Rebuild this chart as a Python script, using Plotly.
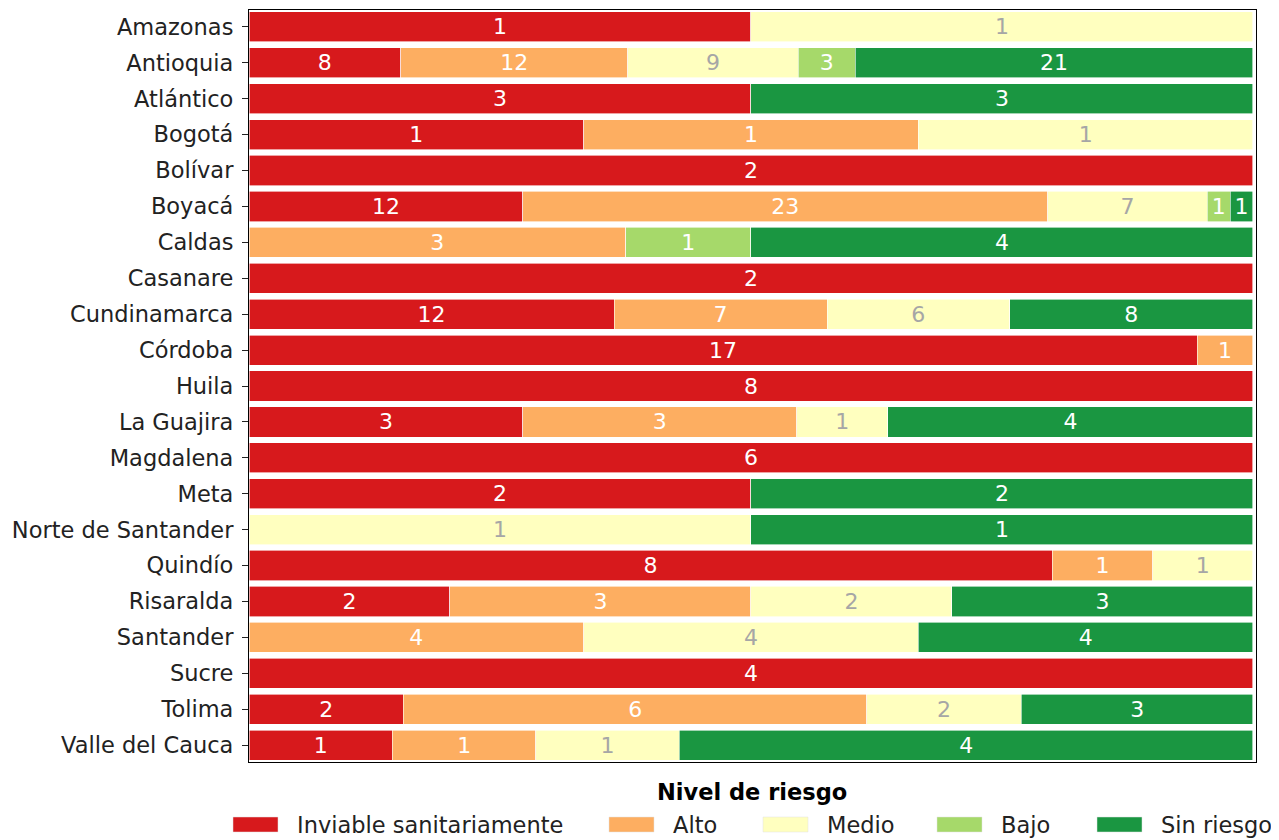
import plotly.graph_objects as go

departamentos = ["Amazonas", "Antioquia", "Atlántico", "Bogotá", "Bolívar", "Boyacá", "Caldas",
                 "Casanare", "Cundinamarca", "Córdoba", "Huila", "La Guajira", "Magdalena", "Meta",
                 "Norte de Santander", "Quindío", "Risaralda", "Santander", "Sucre", "Tolima",
                 "Valle del Cauca"]

niveles = ["Inviable sanitariamente", "Alto", "Medio", "Bajo", "Sin riesgo"]

inviable   = [1, 8, 3, 1, 2, 12, 0, 2, 12, 17, 8, 3, 6, 2, 0, 8, 2, 0, 4, 2, 1]
alto       = [0, 12, 0, 1, 0, 23, 3, 0, 7, 1, 0, 3, 0, 0, 0, 1, 3, 4, 0, 6, 1]
medio      = [1, 9, 0, 1, 0, 7, 0, 0, 6, 0, 0, 1, 0, 0, 1, 1, 2, 4, 0, 2, 1]
bajo       = [0, 3, 0, 0, 0, 1, 1, 0, 0, 0, 0, 0, 0, 0, 0, 0, 0, 0, 0, 0, 0]
sin_riesgo = [0, 21, 3, 0, 0, 1, 4, 0, 8, 0, 0, 4, 0, 2, 1, 0, 3, 4, 0, 3, 4]

series = [inviable, alto, medio, bajo, sin_riesgo]
colores = ["#d7191c", "#fdae61", "#ffffbf", "#a6d96a", "#1a9641"]
color_texto = ["white", "white", "#a6a6a6", "white", "white"]

FS = 22.5
FS_BAR = 22

fig = go.Figure()
for nombre, vals, col, tcol in zip(niveles, series, colores, color_texto):
    fig.add_trace(go.Bar(
        y=departamentos,
        x=[v if v else None for v in vals],
        orientation="h",
        name=nombre,
        marker=dict(color=col, line=dict(color="white", width=0.6)),
        text=[str(v) if v else "" for v in vals],
        textposition="inside",
        insidetextanchor="middle",
        textangle=0,
        textfont=dict(color=tcol, size=FS_BAR, family="DejaVu Sans"),
        showlegend=False,
    ))

# page has an 8px body margin: figure sized so it fits the 1279x840 window
fig.update_layout(
    width=1271, height=832,
    barmode="stack", barnorm="percent", bargap=0.16,
    plot_bgcolor="white", paper_bgcolor="white",
    margin=dict(l=241, r=23, t=2, b=78),
    font=dict(family="DejaVu Sans", color="#222"),
    uniformtext=dict(minsize=FS_BAR, mode="show"),
)
fig.update_xaxes(range=[0, 100.3], showticklabels=False, ticks="", showgrid=False, zeroline=False,
                 showline=True, linecolor="black", linewidth=1.2, mirror=True)
fig.update_yaxes(autorange=False, range=[20.47, -0.47], showgrid=False, zeroline=False,
                 showline=True, linecolor="black", linewidth=1.2, mirror=True,
                 ticks="outside", ticklen=6, tickcolor="#222", ticklabelstandoff=4,
                 tickfont=dict(size=FS, color="#222"))

# Legend drawn below the plot (paper coords relative to plot area)
def px_x(p):
    return (p - 249) / 1007

def px_y(p):
    return (762 - p) / 752

fig.add_annotation(text="<b>Nivel de riesgo</b>", xref="paper", yref="paper", x=px_x(752), y=px_y(792),
                   showarrow=False, font=dict(size=FS, color="black"), xanchor="center", yanchor="middle")
patch_px = [233, 609, 763, 937, 1097]
for nombre, col, px in zip(niveles, colores, patch_px):
    fig.add_shape(type="rect", xref="paper", yref="paper", x0=px_x(px), x1=px_x(px + 45),
                  y0=px_y(832), y1=px_y(817),
                  fillcolor=col, line=dict(color="#e0e0e0", width=0.5))
    fig.add_annotation(text=nombre, xref="paper", yref="paper", x=px_x(px + 62),
                       y=px_y(825), showarrow=False, xanchor="left", yanchor="middle",
                       font=dict(size=FS, color="#222"))

fig.write_html("out.html")
